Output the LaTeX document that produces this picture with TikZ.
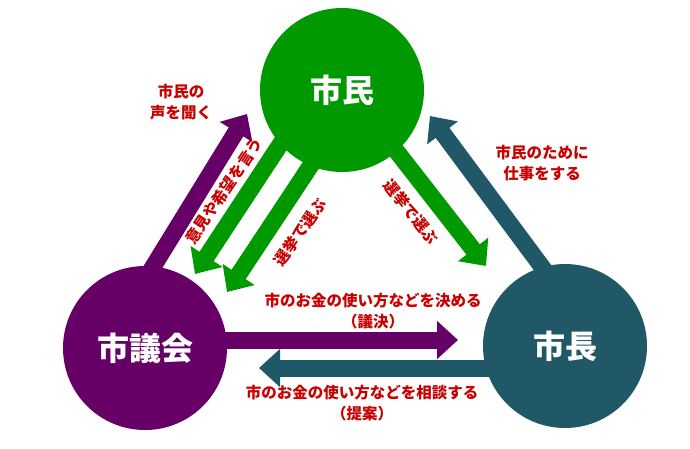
\documentclass[tikz,border=0pt]{standalone}
\usepackage{fontspec}
\setmainfont{Noto Sans CJK JP}
\usetikzlibrary{arrows.meta}
\definecolor{minG}{RGB}{0,153,0}
\definecolor{gikP}{RGB}{102,0,102}
\definecolor{choT}{RGB}{33,88,104}
\definecolor{lblR}{RGB}{200,0,0}

\begin{document}
\begin{tikzpicture}[x=1pt,y=-1pt,line join=miter,
	blockarrow/.style={line width=17pt,-{Triangle[width=37pt,length=21pt]}},
	bigcircle/.style={circle,minimum size=164pt,inner sep=0pt,text=white,font=\fontsize{32}{32}\selectfont\bfseries},
	lbl/.style={text=lblR,align=center,inner sep=0pt,font=\fontsize{15.5}{21}\selectfont\bfseries}]
	\useasboundingbox (0,0) rectangle (690,448);
	% dau va cuoi cac mui ten
	\coordinate (pd1) at (148,275);  \coordinate (pd2) at (247,114);
	\coordinate (ga1) at (291,128);  \coordinate (ga2) at (195,274);
	\coordinate (gb1) at (321,150);  \coordinate (gb2) at (227,292);
	\coordinate (gc1) at (380,130);  \coordinate (gc2) at (486,266);
	\coordinate (td1) at (548,275);  \coordinate (td2) at (430,116);
	\coordinate (ph1) at (200,340);  \coordinate (ph2) at (458,340);
	\coordinate (th1) at (520,368);  \coordinate (th2) at (259,368);
	\draw[blockarrow,gikP] (pd1)--(pd2);
	\draw[blockarrow,minG] (ga1)--(ga2);
	\draw[blockarrow,minG] (gb1)--(gb2);
	\draw[blockarrow,minG] (gc1)--(gc2);
	\draw[blockarrow,choT] (td1)--(td2);
	\draw[blockarrow,gikP] (ph1)--(ph2);
	\draw[blockarrow,choT] (th1)--(th2);
	% ba hinh tron
	\node[bigcircle,fill=minG] (shimin) at (342,90) {市民};
	\node[bigcircle,fill=gikP] (gikai) at (145,348) {市議会};
	\node[bigcircle,fill=choT] (shicho) at (565,346) {市長};
	% nhan
	\node[lbl] (koe) at (181,102) {市民の\\声を聞く};
	\node[lbl] (shigoto) at (542,163) {市民のために\\仕事をする};
	\node[lbl,rotate=56] (iken) at (224,191) {意見や希望を言う};
	\node[lbl,rotate=55] (senkyoL) at (300,232) {選挙で選ぶ};
	\node[lbl,rotate=-52] (senkyoR) at (411,212) {選挙で選ぶ};
	\node[lbl] (giketsu) at (373,311) {市のお金の使い方などを決める\\（議決）};
	\node[lbl] (teian) at (362,403) {市のお金の使い方などを相談する\\（提案）};
\end{tikzpicture}
\end{document}
